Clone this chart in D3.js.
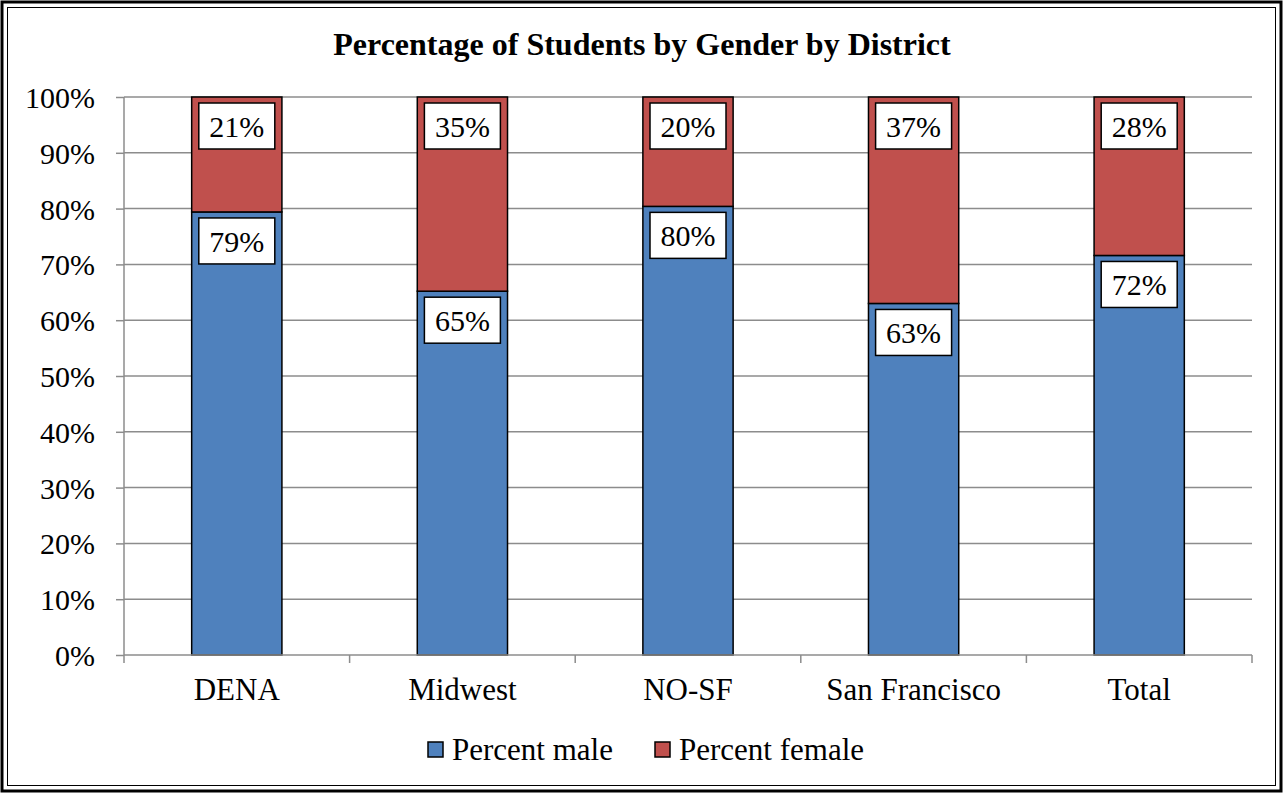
<!DOCTYPE html>
<html>
<head>
<meta charset="utf-8">
<script src="https://cdn.jsdelivr.net/npm/d3@7"></script>
<style>
  body { margin: 0; background: #fff; }
  svg { display: block; }
  text { font-family: "Liberation Serif", "Times New Roman", serif; fill: #000; }
</style>
</head>
<body>
<div id="viz"></div>
<script>
const districts = ['DENA', 'Midwest', 'NO-SF', 'San Francisco', 'Total'],
    male = [79.4, 65.2, 80.4, 63.0, 71.6],
    female = [20.6, 34.8, 19.6, 37.0, 28.4],
    seriesNames = ['Percent male', 'Percent female'],
    yTicks = [0, 10, 20, 30, 40, 50, 60, 70, 80, 90, 100];

const W = 1283, H = 793,
    margin = {top: 97, right: 31, bottom: 138, left: 124},
    width = W - margin.left - margin.right,
    height = H - margin.top - margin.bottom,
    colors = ['#4F81BD', '#C0504D'];

const svg = d3.select('#viz').append('svg')
    .attr('width', W)
    .attr('height', H);

// double frame
svg.append('rect').attr('x', 2).attr('y', 2).attr('width', W - 4).attr('height', H - 4)
    .attr('fill', 'none').attr('stroke', '#000').attr('stroke-width', 3);
svg.append('rect').attr('x', 7.5).attr('y', 7.5).attr('width', W - 15).attr('height', H - 15)
    .attr('fill', 'none').attr('stroke', '#000').attr('stroke-width', 1);

svg.append('text')
    .attr('x', 642).attr('y', 55)
    .attr('text-anchor', 'middle')
    .style('font-size', '32px').style('font-weight', 'bold')
    .text('Percentage of Students by Gender by District');

const g = svg.append('g').attr('transform', 'translate(' + margin.left + ',' + margin.top + ')');

const x = d3.scaleBand().domain(districts).range([0, width]).paddingInner(0.6).paddingOuter(0.3);
const xBand = d3.scaleBand().domain(districts).range([0, width]);
const y = d3.scaleLinear().domain([0, 100]).range([height, 0]);

// gridlines
g.append('g').selectAll('line').data(yTicks.slice(1)).enter().append('line')
    .attr('x1', 0).attr('x2', width)
    .attr('y1', d => y(d)).attr('y2', d => y(d))
    .attr('stroke', '#8c8c8c').attr('stroke-width', 1.5);

// y axis
const yAxis = g.append('g')
    .call(d3.axisLeft(y).tickValues(yTicks).tickFormat(d => d + '%').tickSize(8).tickPadding(21));
yAxis.select('.domain').attr('stroke', '#8c8c8c').attr('stroke-width', 1.5).attr('d', 'M0,' + y(100) + 'V' + y(0));
yAxis.selectAll('.tick line').attr('stroke', '#8c8c8c').attr('stroke-width', 1.5);
yAxis.selectAll('text').style('font-size', '30px').style('font-family', '"Liberation Serif", serif').attr('dy', '0.35em');

// stacked bars
const stackData = districts.map((d, i) => ({district: d, male: male[i], female: female[i]}));
const stack = d3.stack().keys(['male', 'female'])(stackData);

stack.forEach((layer, li) => {
    const lg = g.append('g');
    lg.selectAll('rect').data(layer).enter().append('rect')
        .attr('x', d => x(d.data.district))
        .attr('width', x.bandwidth())
        .attr('y', d => y(d[1]))
        .attr('height', d => y(d[0]) - y(d[1]))
        .attr('fill', colors[li])
        .attr('stroke', '#000').attr('stroke-width', 1.5);
});

// x axis
const xAxisG = g.append('g').attr('transform', 'translate(0,' + height + ')');
xAxisG.append('line').attr('x1', 0).attr('x2', width).attr('stroke', '#8c8c8c').attr('stroke-width', 1.5);
xAxisG.selectAll('.tk').data(d3.range(districts.length + 1)).enter().append('line')
    .attr('x1', i => i * xBand.step()).attr('x2', i => i * xBand.step())
    .attr('y1', 0).attr('y2', 8)
    .attr('stroke', '#8c8c8c').attr('stroke-width', 1.5);
xAxisG.selectAll('text').data(districts).enter().append('text')
    .attr('x', d => xBand(d) + xBand.bandwidth() / 2)
    .attr('y', 45)
    .attr('text-anchor', 'middle')
    .style('font-size', '31px')
    .text(d => d);

// data labels, inside end
stack.forEach(layer => {
    const lab = g.append('g').selectAll('g').data(layer).enter().append('g')
        .attr('transform', d => 'translate(' + (x(d.data.district) + x.bandwidth() / 2) + ',' + (y(d[1]) + 6) + ')');
    lab.append('rect')
        .attr('x', -38).attr('y', 0).attr('width', 76).attr('height', 46)
        .attr('fill', '#fff').attr('stroke', '#000').attr('stroke-width', 1.5);
    lab.append('text')
        .attr('y', 34)
        .attr('text-anchor', 'middle')
        .style('font-size', '30px')
        .text(d => Math.round(d[1] - d[0]) + '%');
});

// legend
const legend = svg.append('g').attr('transform', 'translate(428,750)');
const legendX = [0, 227];
seriesNames.forEach((name, i) => {
    const lg = legend.append('g').attr('transform', 'translate(' + legendX[i] + ',0)');
    lg.append('rect').attr('x', 0).attr('y', -8).attr('width', 15).attr('height', 15)
        .attr('fill', colors[i]).attr('stroke', '#000').attr('stroke-width', 1.5);
    lg.append('text').attr('x', 24).attr('y', 10).style('font-size', '31px').text(name);
});
</script>
</body>
</html>
